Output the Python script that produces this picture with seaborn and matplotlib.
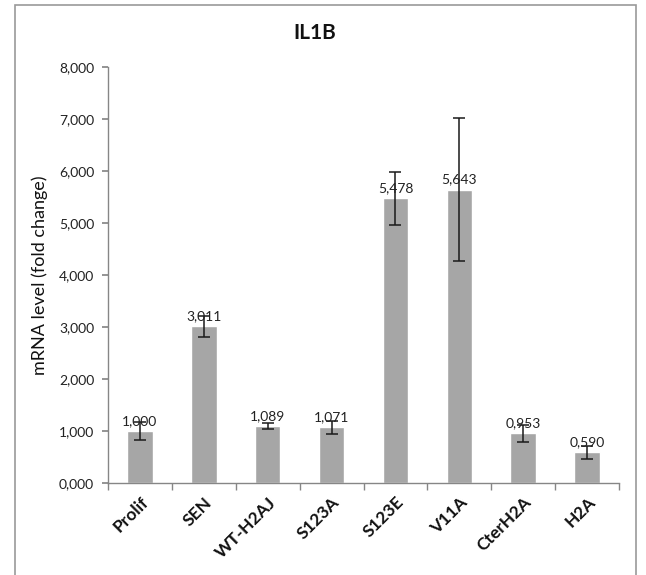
import matplotlib
matplotlib.use("Agg")
import matplotlib.pyplot as plt
import seaborn as sns
import numpy as np
from matplotlib.ticker import FuncFormatter, FixedLocator
from matplotlib.patches import Rectangle

# données
categories = ['Prolif', 'SEN', 'WT-H2AJ', 'S123A', 'S123E', 'V11A', 'CterH2A', 'H2A']
values = [1.000, 3.011, 1.089, 1.071, 5.478, 5.643, 0.953, 0.590]
errors = [0.18, 0.20, 0.06, 0.12, 0.51, 1.37, 0.16, 0.12]

sns.set_theme(style="white")
plt.rcParams['font.family'] = ['Lato', 'DejaVu Sans']

fig = plt.figure(figsize=(6.46, 5.75), dpi=100)
ax = fig.add_axes([108/646, 1 - 483/575, (619-108)/646, (483-67)/575])

sns.barplot(x=categories, y=values, color='#A6A6A6', width=0.4, saturation=1, ax=ax)

pos = np.arange(len(categories))
ax.errorbar(pos, values, yerr=errors, fmt='none', ecolor='#1a1a1a', elinewidth=1.1,
            capsize=4, capthick=1.1, zorder=3)

# étiquettes de valeur
for x, v in zip(pos, values):
    ax.text(x, v + 0.08, f'{v:.3f}'.replace('.', ','), ha='center', va='bottom',
            fontsize=10, color='#222222', zorder=4)

ax.set_ylim(0, 8)
ax.set_xlim(-0.5, len(categories) - 0.5)
ax.yaxis.set_major_locator(FixedLocator(np.arange(0, 9, 1)))
ax.yaxis.set_major_formatter(FuncFormatter(lambda v, p: f'{v:,.3f}'.replace('.', ',')))
ax.tick_params(axis='y', direction='out', length=4, color='#868686', labelsize=10,
               labelcolor='#222222', left=True, pad=6)

ax.set_xticks(pos)
ax.set_xticklabels(categories, rotation=45, ha='right', rotation_mode='anchor',
                   fontsize=12.5, fontweight='bold', color='#111111')
ax.set_xticks(np.arange(-0.5, len(categories), 1), minor=True)
ax.tick_params(axis='x', which='major', length=0, pad=8)
ax.tick_params(axis='x', which='minor', direction='out', length=5, color='#868686', bottom=True)

for side in ['top', 'right']:
    ax.spines[side].set_visible(False)
for side in ['left', 'bottom']:
    ax.spines[side].set_color('#868686')
    ax.spines[side].set_linewidth(1)

ax.set_xlabel('')
ax.set_ylabel('mRNA level (fold change)', fontsize=13, color='#111111', labelpad=8)
fig.text(315/646, 1 - 33/575, 'IL1B', ha='center', va='center', fontsize=15,
         fontweight='bold', color='#111111')

# cadre du graphique
fig.patches.append(Rectangle((15/646, -0.02), (636-15)/646, 1.02 - 5/575,
                             transform=fig.transFigure, fill=False,
                             edgecolor='#9a9a9a', linewidth=1.2))

fig.savefig('out.png', dpi=100)
